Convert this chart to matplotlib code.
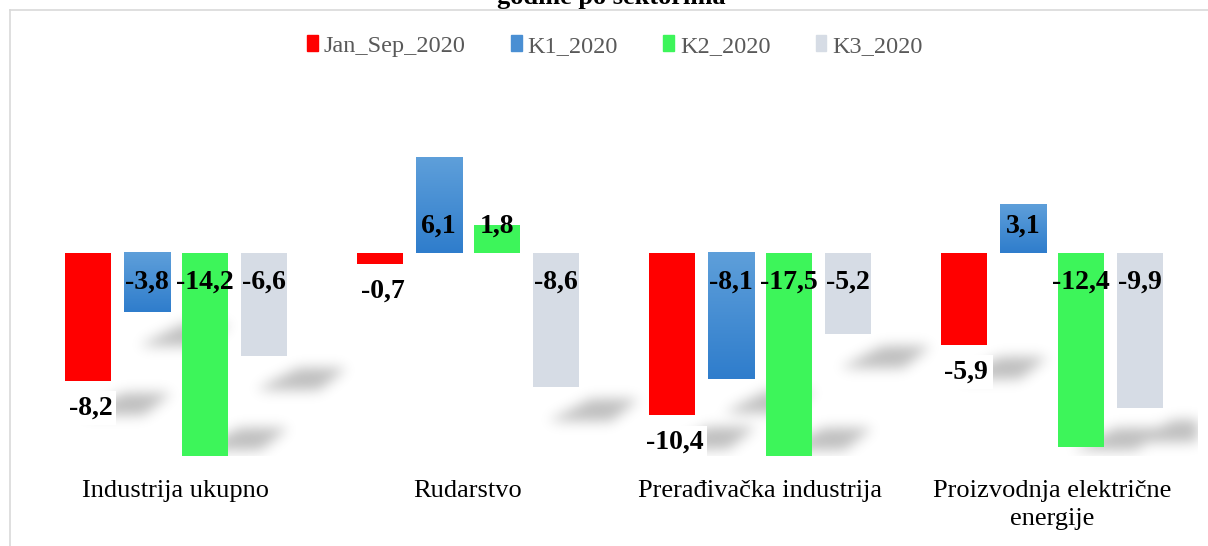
import numpy as np
import matplotlib.pyplot as plt
from matplotlib.patches import Patch
from matplotlib.path import Path
from matplotlib.colors import to_rgb

plt.rcParams['font.family'] = ['Liberation Serif', 'DejaVu Serif']

# data
sectors = ['Industrija ukupno', 'Rudarstvo', 'Prerađivačka industrija',
           'Proizvodnja električne\nenergije']
series = ['Jan_Sep_2020', 'K1_2020', 'K2_2020', 'K3_2020']
jan_sep = [-8.2, -0.7, -10.4, -5.9]
k1 = [-3.8, 6.1, -8.1, 3.1]
k2 = [-14.2, 1.8, -17.5, -12.4]
k3 = [-6.6, -8.6, -5.2, -9.9]
values = [jan_sep, k1, k2, k3]

colors = ['#FF0000', '#4A8FD3', '#3DF55A', '#D6DCE5']
blue_top = np.array(to_rgb('#5E9FDA'))
blue_bot = np.array(to_rgb('#2F7DCC'))

W, H, DPI = 1208, 546, 100
AX_W, AX_H = 1168, 367
fig = plt.figure(figsize=(W / DPI, H / DPI), dpi=DPI)
ax = fig.add_axes([30 / W, 1 - 456 / H, AX_W / W, AX_H / H])

ymin, ymax = -13.0, 10.5
xmin, xmax = -0.5, len(sectors) - 0.5
step, width = 0.2, 0.158
x = np.arange(len(sectors))

def fmt(v):
    return ('%.1f' % v).replace('.', ',')

def to_px(xd, yd):
    # data -> pixel inside the axes, y measured from the top
    return ((xd - xmin) / (xmax - xmin) * AX_W,
            (ymax - yd) / (ymax - ymin) * AX_H)

# soft perspective shadows under the negative bars
yy, xx = np.mgrid[0:AX_H, 0:AX_W]
pts = np.column_stack([xx.ravel() + 0.5, yy.ravel() + 0.5])
mask = np.zeros(AX_H * AX_W)
for j, vals in enumerate(values):
    for xi, v in zip(x + (j - 1.5) * step, vals):
        if v > -2:
            continue
        xc, ye = to_px(xi, max(v, ymin))
        xr = xc + width / 2 / (xmax - xmin) * AX_W
        ye = min(ye, AX_H - 40)
        poly = Path([(xc - 8, ye + 34), (xr + 32, ye + 34),
                     (xr + 60, ye + 12), (xr + 12, ye + 12)])
        mask[poly.contains_points(pts)] = 1.0
mask = mask.reshape(AX_H, AX_W)
k = np.exp(-0.5 * (np.arange(-20, 21) / 6.5) ** 2)
k /= k.sum()
mask = np.apply_along_axis(lambda r: np.convolve(r, k, mode='same'), 1, mask)
mask = np.apply_along_axis(lambda c: np.convolve(c, k, mode='same'), 0, mask)
shadow = np.zeros((AX_H, AX_W, 4))
shadow[..., 3] = mask * 0.26
ax.imshow(shadow, extent=[0, 1, 0, 1], transform=ax.transAxes,
          aspect='auto', zorder=1, interpolation='none')

for j, (name, vals) in enumerate(zip(series, values)):
    xs = x + (j - 1.5) * step
    if name == 'K1_2020':
        # vertical gradient fill like the excel bars
        for xi, v in zip(xs, vals):
            grad = np.linspace(0, 1, 64)[:, None, None]
            img = blue_top * (1 - grad) + blue_bot * grad
            top, bot = max(v, 0), min(v, 0)
            ax.imshow(img, extent=[xi - width / 2, xi + width / 2, bot, top],
                      origin='upper', aspect='auto', zorder=2, interpolation='bilinear')
    else:
        ax.bar(xs, vals, width=width, color=colors[j], zorder=2)

    for xi, v in zip(xs, vals):
        if j == 0:
            # outside end, white box
            ax.annotate(fmt(v), (xi, max(v, ymin)), xytext=(2, -27),
                        textcoords='offset pixels', ha='center', va='center',
                        fontsize=20, fontweight='bold', zorder=4,
                        bbox=dict(boxstyle='square,pad=0.15', fc='white', ec='none'))
        else:
            off = 27 if v > 0 else -29
            ax.annotate(fmt(v), (xi, 0), xytext=(0, off),
                        textcoords='offset pixels', ha='center', va='center',
                        fontsize=20, fontweight='bold', zorder=4)

ax.set_xlim(xmin, xmax)
ax.set_ylim(ymin, ymax)
ax.set_xticks(x)
ax.set_xticklabels(sectors, fontsize=19, linespacing=1.35)
ax.tick_params(axis='x', length=0, pad=17)
ax.set_yticks([])
for s in ax.spines.values():
    s.set_visible(False)

handles = [Patch(color=c) for c in colors]
fig.legend(handles, series, loc='center', bbox_to_anchor=(0.509, 1 - 46 / H),
           ncol=4, frameon=False, fontsize=17.5, labelcolor='#595959',
           handlelength=0.45, handleheight=0.6, handletextpad=0.25,
           columnspacing=1.85)

# chart border and cut-off title
fig.add_artist(plt.Line2D([10 / W, 10 / W], [0, 1 - 10 / H], color='#D9D9D9', lw=1.2))
fig.add_artist(plt.Line2D([10 / W, 1], [1 - 10 / H, 1 - 10 / H], color='#D9D9D9', lw=1.2))
fig.text(0.506, 1 - 4 / H, 'godine po sektorima', ha='center', va='baseline',
         fontsize=19, fontweight='bold')

fig.savefig('out.png', dpi=DPI)
